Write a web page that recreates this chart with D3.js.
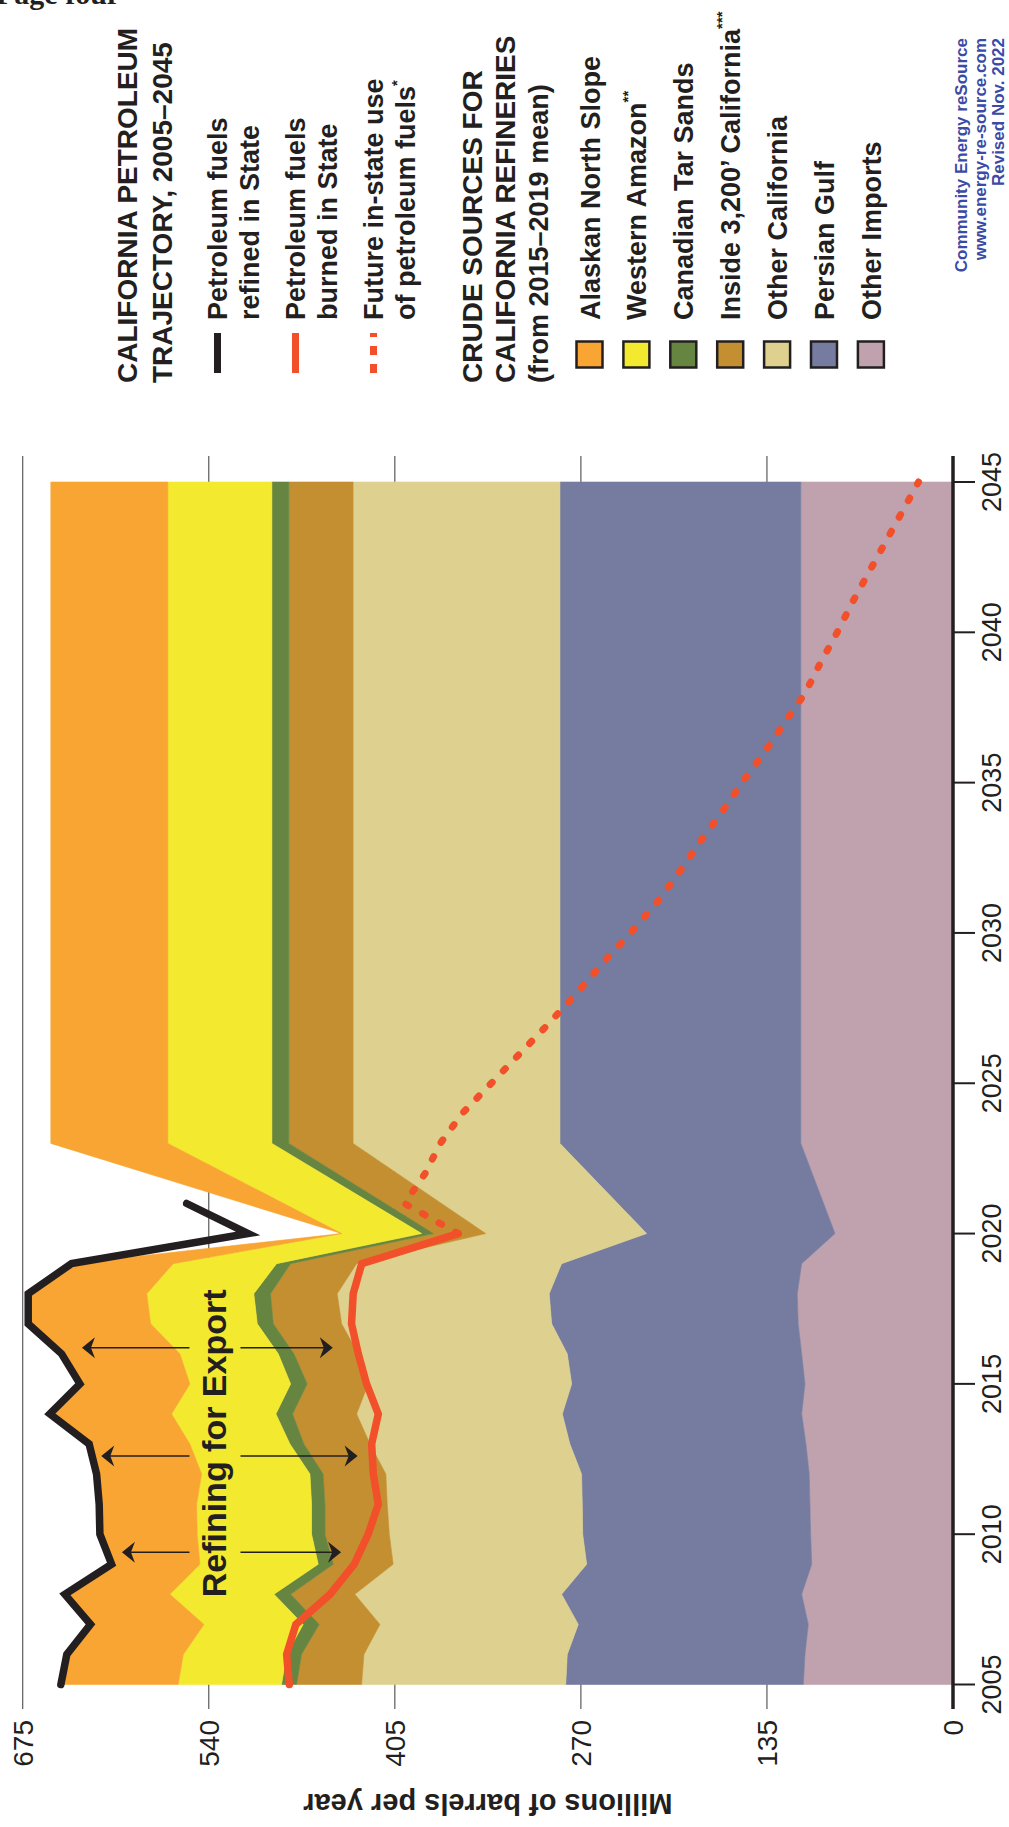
<!DOCTYPE html>
<html><head><meta charset="utf-8">
<script src="https://cdn.jsdelivr.net/npm/d3@7"></script>
<style>
html,body{margin:0;padding:0;background:#fff;}
svg{display:block;}
text{font-family:"Liberation Sans",Arial,Helvetica,sans-serif;}
</style></head><body>
<svg id="chart" width="1009" height="1827"></svg>
<script>
// ---------- DATA ----------
const years = [2005,2006,2007,2008,2009,2010,2011,2012,2013,2014,2015,2016,2017,2018,2019,2020,2023,2045];
const otherImports    = [108.6,107.4,105.0,109.8,102.5,103.3,103.8,104.3,106.7,109.8,107.4,109.8,112.3,113.0,109.8,85.6,110.4,110.4];
const persianGulf     = [172.4,172.5,166.9,174.2,163.3,165.4,165.2,165.2,171.3,173.7,169.3,170.1,178.9,180.0,174.2,136.7,174.8,174.8];
const otherCalifornia = [148.1,147.5,143.9,150.0,140.4,140.3,141.5,142.0,145.0,149.2,147.6,151.6,152.4,153.8,148.7,116.7,150.1,150.1];
const inside3200      = [47.2,45.3,44.1,46.6,43.5,46.7,45.2,45.5,48.0,46.5,44.3,46.7,49.6,48.4,47.9,38.0,46.6,46.6];
const canadianTarSands= [10.9,10.8,11.6,12.1,10.9,9.7,9.7,9.6,10.1,12.1,12.0,11.4,11.6,12.1,10.2,8.5,12.3,12.3];
const westernAmazon   = [75.0,75.0,72.0,75.5,85.8,83.0,83.4,78.6,72.6,75.7,73.1,71.4,77.4,77.7,75.0,58.1,75.5,75.5];
const alaskanNorthSlope=[85.1,84.5,82.3,76.2,64.1,70.6,71.2,76.2,73.1,88.3,79.8,85.8,88.8,86.0,73.8,0,84.9,84.9];

const refinedYears  = [2005,2006,2007,2008,2009,2010,2011,2012,2013,2014,2015,2016,2017,2018,2019,2020,2021];
const refinedValues = [647.3,643.0,625.8,644.4,610.5,619.0,619.5,621.4,626.8,655.3,633.5,646.8,671.0,671.0,639.6,511.4,556.0];
const burnedYears   = [2005,2006,2007,2008,2009,2010,2011,2012,2013,2014,2015,2016,2017,2018,2019,2020];
const burnedValues  = [481.6,483.5,476.8,452.0,434.5,424.3,417.0,420.6,421.8,417.0,425.5,431.5,436.4,435.2,429.0,359.0];
const futureYears   = [2020,2021,2022,2023,2024,2025,2026,2027,2028,2029,2030,2031,2032,2033,2034,2035,2036,2037,2038,2039,2040,2041,2042,2043,2044,2045];
const futureValues  = [359,398,383,372,356,335,314,293,273,254,234,215,199,184,168,153,137,122,107,96,84,73,61,49,37,25];

const arrowYears = [2009.4,2012.6,2016.2];
const arrowFrom  = [603,618,632];
const arrowTo    = [444,432,450];

const yearTicks  = [2005,2010,2015,2020,2025,2030,2035,2040,2045];
const valueTicks = [0,135,270,405,540,675];

const seriesNames = ["Other Imports","Persian Gulf","Other California","Inside 3,200\u2019 California","Canadian Tar Sands","Western Amazon","Alaskan North Slope"];
const seriesData  = [otherImports,persianGulf,otherCalifornia,inside3200,canadianTarSands,westernAmazon,alaskanNorthSlope];
const seriesColors= ["#c0a2ae","#757ca0","#ded190","#c48f30","#668541","#f3ea2f","#f9a533"];
const legendOrder = ["Alaskan North Slope","Western Amazon","Canadian Tar Sands","Inside 3,200\u2019 California","Other California","Persian Gulf","Other Imports"];
const legendSup   = {"Western Amazon":"**","Inside 3,200\u2019 California":"***"};

// ---------- LAYOUT ----------
const W=1009,H=1827;
const INK="#231f20", RED="#f2502a", BLUE="#3a4aa6";
const svg=d3.select("#chart");
svg.append("rect").attr("width",W).attr("height",H).attr("fill","#fff");
svg.append("text").attr("x",-4).attr("y",4)
  .style("font-family","'Liberation Serif','Times New Roman',serif")
  .attr("font-weight","bold").attr("font-size",30).attr("fill",INK).text("Page four");

// whole chart drawn in landscape, rotated onto the portrait page
const g=svg.append("g").attr("transform",`translate(0,${H}) rotate(-90)`);
const x=d3.scaleLinear().domain([2005,2045]).range([142.5,1345]);
const y=d3.scaleLinear().domain([0,675]).range([953,22.7]);
const xExt=[118,1371];

// gridlines
g.selectAll("line.grid").data(valueTicks.filter(v=>v>0)).join("line").attr("class","grid")
  .attr("x1",xExt[0]).attr("x2",xExt[1]).attr("y1",d=>y(d)).attr("y2",d=>y(d))
  .attr("stroke","#5a5a5a").attr("stroke-width",1.2);

// stacked areas
const keys=seriesNames;
const table=years.map((yr,i)=>{const o={year:yr};keys.forEach((k,j)=>o[k]=seriesData[j][i]);return o;});
const stacked=d3.stack().keys(keys)(table);
const area=d3.area().x(d=>x(d.data.year)).y0(d=>y(d[0])).y1(d=>y(d[1]));
g.selectAll("path.layer").data(stacked).join("path").attr("class","layer")
  .attr("d",area).attr("fill",(d,i)=>seriesColors[i]).attr("stroke",(d,i)=>seriesColors[i]).attr("stroke-width",0.6);

// lines
const line=d3.line().x(d=>x(d[0])).y(d=>y(d[1]));
g.append("path").attr("d",line(d3.zip(futureYears,futureValues)))
  .attr("fill","none").attr("stroke",RED).attr("stroke-width",7)
  .attr("stroke-linecap","round").attr("stroke-dasharray","3,16");
g.append("path").attr("d",line(d3.zip(burnedYears,burnedValues)))
  .attr("fill","none").attr("stroke",RED).attr("stroke-width",7.5)
  .attr("stroke-linecap","round").attr("stroke-linejoin","miter");
g.append("path").attr("d",line(d3.zip(refinedYears,refinedValues)))
  .attr("fill","none").attr("stroke",INK).attr("stroke-width",7.5)
  .attr("stroke-linecap","round").attr("stroke-linejoin","miter");

// axis line and ticks
g.append("line").attr("x1",xExt[0]).attr("x2",xExt[1]).attr("y1",y(0)).attr("y2",y(0))
  .attr("stroke",INK).attr("stroke-width",3.5);
g.selectAll("line.xt").data(yearTicks).join("line").attr("class","xt")
  .attr("x1",d=>x(d)).attr("x2",d=>x(d)).attr("y1",y(0)).attr("y2",y(0)+22)
  .attr("stroke",INK).attr("stroke-width",2);
g.selectAll("text.xl").data(yearTicks).join("text").attr("class","xl")
  .attr("x",d=>x(d)).attr("y",y(0)+48).attr("text-anchor","middle")
  .attr("font-size",27).attr("fill",INK).text(d=>d);
g.selectAll("text.yl").data(valueTicks).join("text").attr("class","yl")
  .attr("x",xExt[0]-11).attr("y",d=>y(d)).attr("dy","0.35em").attr("text-anchor","end")
  .attr("font-size",28).attr("fill",INK).text(d=>d);
g.append("text").attr("transform",`translate(33,${(y(0)+y(675))/2}) rotate(-90)`)
  .attr("text-anchor","middle").attr("font-weight","bold").attr("font-size",29).attr("fill",INK)
  .text("Millions of barrels per year");

// annotation: refining for export
const gapHi=554, gapLo=517;
function head(tx,ty,dir){
  const L=13,Wd=10.5,N=9;
  return `M${tx},${ty} L${tx-Wd},${ty-dir*L} L${tx},${ty-dir*N} L${tx+Wd},${ty-dir*L} Z`;
}
arrowYears.forEach((yr,i)=>{
  const ax=x(yr);
  g.append("line").attr("x1",ax).attr("x2",ax).attr("y1",y(arrowFrom[i])+8).attr("y2",y(gapHi))
    .attr("stroke",INK).attr("stroke-width",1.6);
  g.append("line").attr("x1",ax).attr("x2",ax).attr("y1",y(gapLo)).attr("y2",y(arrowTo[i])-8)
    .attr("stroke",INK).attr("stroke-width",1.6);
  g.append("path").attr("d",head(ax,y(arrowFrom[i]),-1)).attr("fill",INK);
  g.append("path").attr("d",head(ax,y(arrowTo[i]),1)).attr("fill",INK);
});
g.append("text").attr("x",x(2007.9)).attr("y",y(527.6)).attr("font-size",34)
  .attr("font-weight","bold").attr("fill",INK).text("Refining for Export");

// ---------- LEGEND ----------
const lg=g.append("g");
const LX=1444, TX=1507;
lg.append("text").attr("x",LX).attr("y",137).attr("font-size",28).attr("font-weight","bold").attr("fill",INK).text("CALIFORNIA PETROLEUM");
lg.append("text").attr("x",LX).attr("y",172).attr("font-size",28).attr("font-weight","bold").attr("fill",INK).text("TRAJECTORY, 2005\u20132045");
const lineItems=[
  {l1:"Petroleum fuels",l2:"refined in State",color:INK,dash:null,base:227,sup:""},
  {l1:"Petroleum fuels",l2:"burned in State",color:RED,dash:null,base:305,sup:""},
  {l1:"Future in-state use",l2:"of petroleum fuels",color:RED,dash:"9,9",base:383,sup:"*"}
];
lineItems.forEach(it=>{
  lg.append("line").attr("x1",1454).attr("x2",1494).attr("y1",it.base-9.5).attr("y2",it.base-9.5)
    .attr("stroke",it.color).attr("stroke-width",7).attr("stroke-dasharray",it.dash);
  lg.append("text").attr("x",TX).attr("y",it.base).attr("font-size",27).attr("font-weight","bold").attr("fill",INK).text(it.l1);
  const t=lg.append("text").attr("x",TX).attr("y",it.base+32).attr("font-size",27).attr("font-weight","bold").attr("fill",INK).text(it.l2);
  if(it.sup) t.append("tspan").attr("dy",-13).attr("font-size",15).text(it.sup);
});
lg.append("text").attr("x",LX).attr("y",482).attr("font-size",28).attr("font-weight","bold").attr("fill",INK).text("CRUDE SOURCES FOR");
lg.append("text").attr("x",LX).attr("y",515).attr("font-size",28).attr("font-weight","bold").attr("fill",INK).text("CALIFORNIA REFINERIES");
lg.append("text").attr("x",LX).attr("y",548).attr("font-size",27).attr("font-weight","bold").attr("fill",INK).text("(from 2015\u20132019 mean)");
legendOrder.forEach((name,i)=>{
  const cy=589.5+i*46.9;
  const col=seriesColors[seriesNames.indexOf(name)];
  lg.append("rect").attr("x",1459.5).attr("y",cy-13).attr("width",26).attr("height",26)
    .attr("fill",col).attr("stroke",INK).attr("stroke-width",2.5);
  const t=lg.append("text").attr("x",TX).attr("y",cy+10).attr("font-size",27).attr("font-weight","bold").attr("fill",INK).text(name);
  if(legendSup[name]) t.append("tspan").attr("dy",-13).attr("font-size",15).text(legendSup[name]);
});
const credits=["Community Energy reSource","www.energy-re-source.com","Revised Nov. 2022"];
credits.forEach((c,i)=>{
  lg.append("text").attr("x",1789).attr("y",967+i*18.5).attr("text-anchor","end")
    .attr("font-size",17).attr("font-weight","bold").attr("fill",BLUE).text(c);
});
</script>
</body></html>
